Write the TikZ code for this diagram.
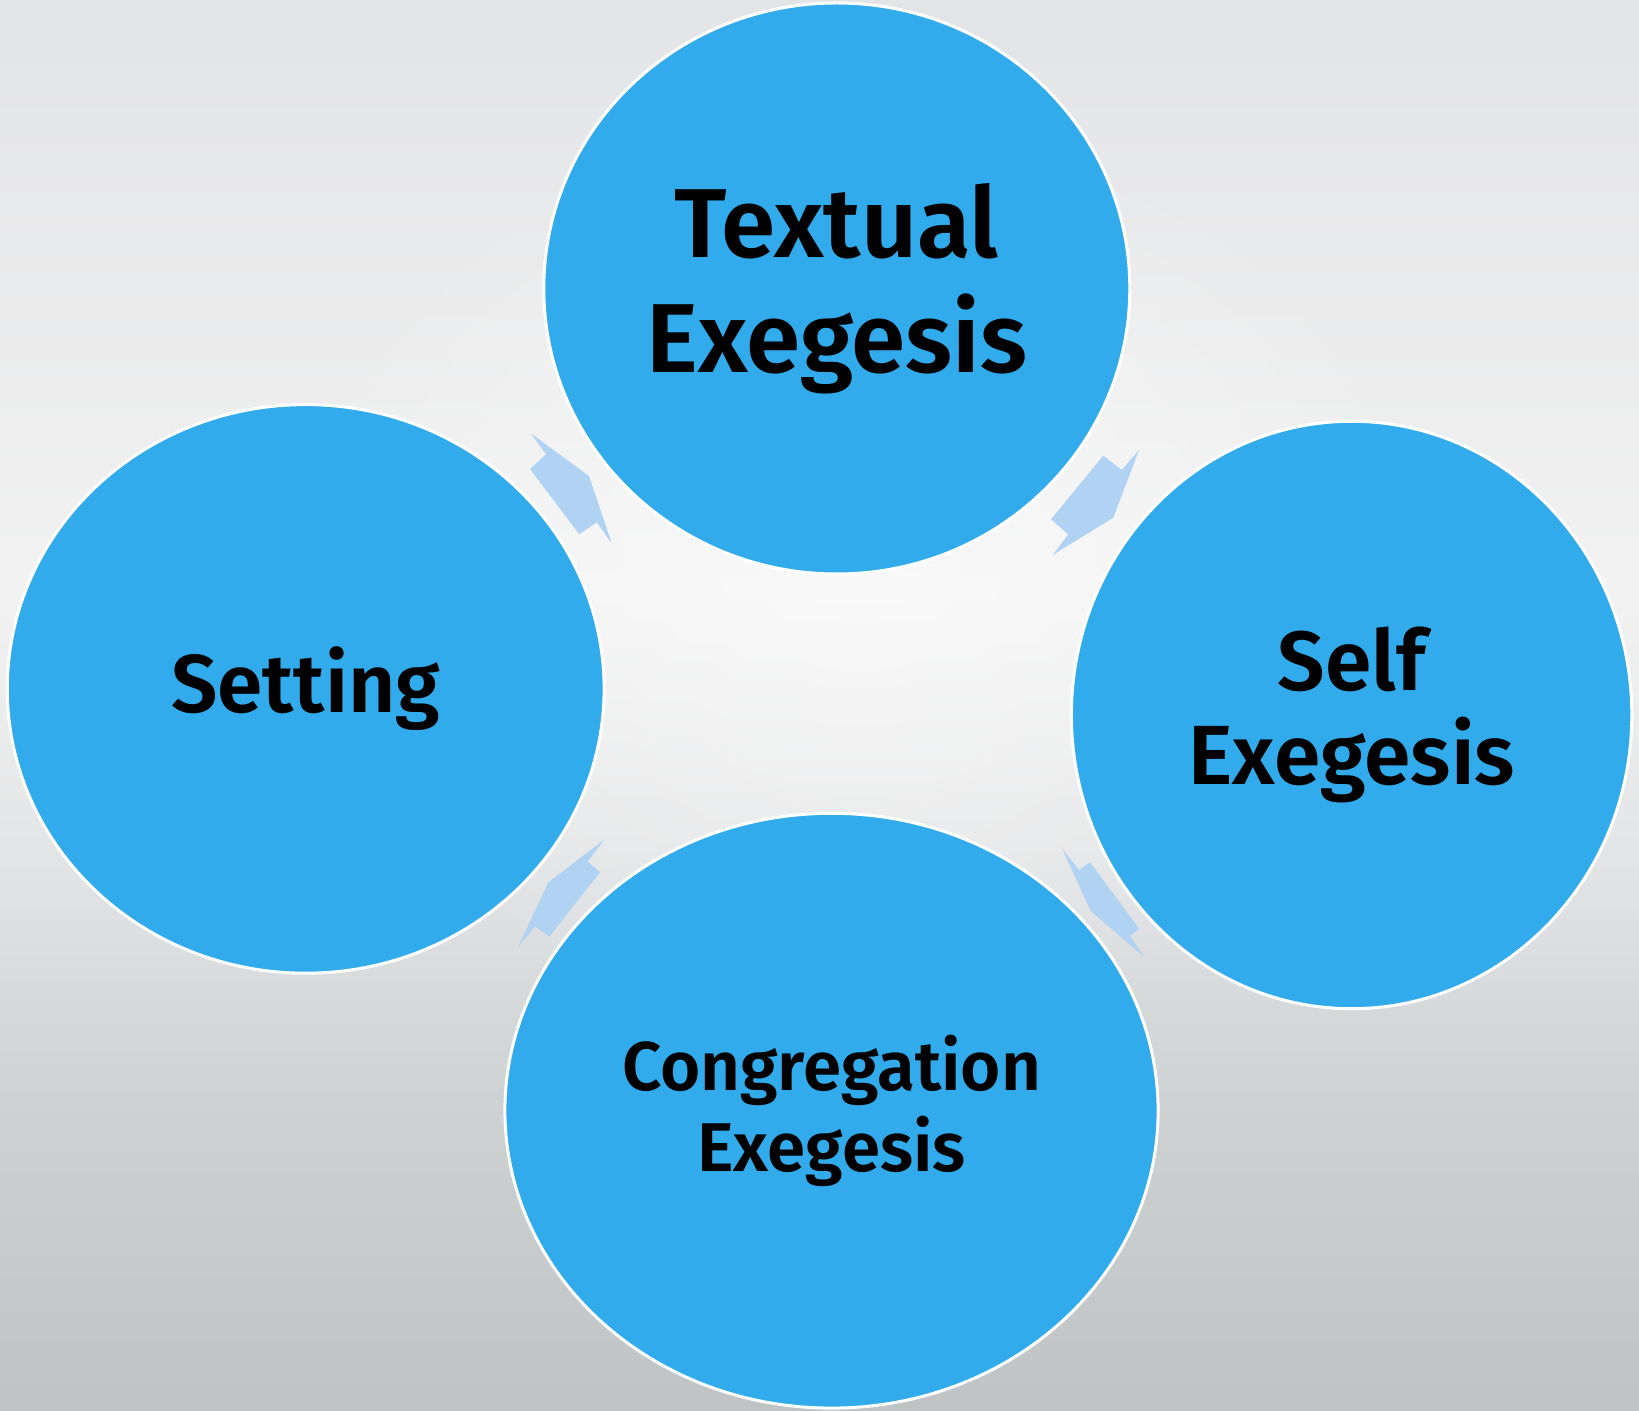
\documentclass[tikz,border=0pt]{standalone}
\usepackage{fontspec}
\setmainfont{Fira Sans}[BoldFont={Fira Sans SemiBold}]
\usetikzlibrary{shapes.geometric,fadings}

\definecolor{bubbleblue}{RGB}{49,171,235}
\definecolor{arrowblue}{RGB}{177,211,243}
\definecolor{bgbottom}{RGB}{191,195,196}
\definecolor{bglow}{RGB}{206,210,211}
\definecolor{bgmid}{RGB}{228,229,230}
\definecolor{bgcentre}{RGB}{242,242,242}
\definecolor{bgtop}{RGB}{227,228,230}
% the picture spans 25bp to 75bp of the shading
\pgfdeclareverticalshading{backdrop}{100bp}{color(0bp)=(bgbottom); color(25bp)=(bgbottom);
  color(36bp)=(bglow); color(45bp)=(bgmid); color(54bp)=(bgcentre); color(75bp)=(bgtop);
  color(100bp)=(bgtop)}
\tikzfading[name=glow, inner color=transparent!0, outer color=transparent!100]

\tikzset{
  bubble/.style={ellipse, draw=white, line width=1.5pt, fill=bubbleblue, inner sep=0pt,
    align=center, font=\bfseries},
  cyclearrow/.style={fill=arrowblue}
}

\begin{document}
\begin{tikzpicture}[x=0.5pt, y=-0.5pt]
    \useasboundingbox (0, 0) rectangle (1639, 1411);
    % backdrop
    \shade[shading=backdrop] (0, 0) rectangle (1639, 1411);
    \fill[white, path fading=glow, fill opacity=0.6] (860, 570) circle [x radius=300pt, y radius=230pt];

    % the four stages
    \node[bubble, minimum width=293pt, minimum height=285.5pt, font=\bfseries\fontsize{49}{57.5}\selectfont]
        (textual) at (836.8, 288.5) {Textual\\Exegesis};
    \node[bubble, minimum width=280.2pt, minimum height=293.7pt, font=\bfseries\fontsize{42}{47}\selectfont]
        (self) at (1351.6, 715) {Self\\Exegesis};
    \node[bubble, minimum width=326.6pt, minimum height=297.4pt, font=\bfseries\fontsize{34.5}{40.5}\selectfont]
        (congregation) at (831.5, 1110.7) {Congregation\\Exegesis};
    \node[bubble, minimum width=298.4pt, minimum height=284.3pt, font=\bfseries\fontsize{41}{47}\selectfont]
        (setting) at (305.7, 688.9) {Setting};

    % arrows between the stages
    \fill[cyclearrow] (530.7, 433.3) -- (546, 454.3) -- (530, 469) -- (579.3, 534.3)
        -- (596.7, 522.3) -- (611.7, 543.3) -- (589, 476) -- cycle;
    \fill[cyclearrow] (1139, 450) -- (1121.7, 470) -- (1103.3, 455.7) -- (1051, 519.3)
        -- (1068.3, 534.3) -- (1052.7, 555) -- (1113.3, 517.7) -- cycle;
    \fill[cyclearrow] (1062.3, 849) -- (1079, 870) -- (1090, 862.3) -- (1139.3, 929)
        -- (1130, 936) -- (1145, 957.7) -- (1090.7, 911) -- cycle;
    \fill[cyclearrow] (604, 840) -- (587.7, 861.7) -- (600, 872.3) -- (549.3, 936.7)
        -- (535, 926.7) -- (518.3, 946.7) -- (548.3, 882.3) -- cycle;
\end{tikzpicture}
\end{document}
